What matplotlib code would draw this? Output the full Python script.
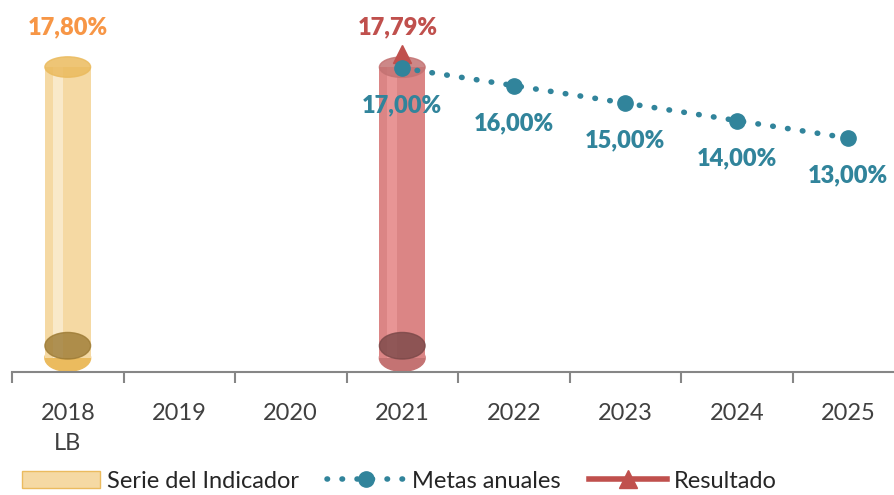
import matplotlib.pyplot as plt
from matplotlib.patches import Ellipse
from matplotlib.lines import Line2D
from matplotlib.patches import Patch

plt.rcParams['font.family'] = ['Lato', 'DejaVu Sans']

years = ["2018\nLB", "2019", "2020", "2021", "2022", "2023", "2024", "2025"]
serie_idx = [0, 3]
serie_vals = [17.80, 17.79]
serie_labels = ["17,80%", "17,79%"]
metas_idx = [3, 4, 5, 6, 7]
metas_vals = [17.0, 16.0, 15.0, 14.0, 13.0]
metas_labels = ["17,00%", "16,00%", "15,00%", "14,00%", "13,00%"]
res_idx = [3]
res_vals = [17.79]

# colours per bar: body, stripe, top, bottom-dark, label
bar_cols = [
    ("#F5D9A3", "#F9E9C9", "#EBBB5E", "#9C7A34", "#F79646"),
    ("#DB8585", "#E89595", "#C47373", "#7A4848", "#C0504D"),
]
teal = "#31849B"
red = "#C0504D"

fig = plt.figure(figsize=(8.94, 4.95), dpi=100)
W, H = 894, 495
axis_y = 372
left = 12
step = 111.5
ax = fig.add_axes([left / W, (H - axis_y) / H, 8 * step / W, axis_y / H])
ax.set_xlim(-0.5, 7.5)
ax.set_ylim(-0.37, 20.89)

# bars on their own scale
axb = ax.twinx()
axb.set_ylim(-0.856, 21.9)
axb.set_zorder(0)
ax.set_zorder(1)
ax.patch.set_visible(False)

bw = 0.41
eh = 1.25
for i, v, c in zip(serie_idx, serie_vals, bar_cols):
    body, stripe, top, dark, _ = c
    axb.add_patch(Ellipse((i, 0), bw, eh * 1.3, color=top, zorder=1))
    axb.bar(i, v, width=bw, color=body, zorder=2)
    axb.bar(i - 0.09, v, width=0.09, color=stripe, zorder=3)
    axb.add_patch(Ellipse((i, 0.75), bw, eh * 1.3, color=dark, alpha=0.8, zorder=4))
    axb.add_patch(Ellipse((i, v), bw, eh, color=top, alpha=0.85, zorder=4))
axb.set_yticks([])
for s in axb.spines.values():
    s.set_visible(False)

ax.plot(metas_idx, metas_vals, color=teal, lw=4, linestyle=(0, (0.1, 2.6)),
        dash_capstyle='round', marker='o', markersize=11, zorder=5)
ax.plot(res_idx, res_vals, color=red, lw=4, marker='^', markersize=13,
        linestyle='none', zorder=4)

for i, v, lab in zip(metas_idx, metas_vals, metas_labels):
    ax.annotate(lab, (i, v), xytext=(0, -27), textcoords='offset points',
                ha='center', va='center', color=teal, fontsize=17,
                fontweight='heavy')
for i, v, lab, c in zip(serie_idx, serie_vals, serie_labels, bar_cols):
    ax.text(i - (0.04 if i == 3 else 0), 19.35, lab, ha='center', va='center',
            color=c[4], fontsize=17, fontweight='heavy')

ax.set_yticks([])
for s in ["left", "right", "top"]:
    ax.spines[s].set_visible(False)
ax.spines["bottom"].set_color("#868686")
ax.spines["bottom"].set_linewidth(1.5)
ax.set_xticks(range(len(years)))
ax.set_xticklabels(years, fontsize=17, color="#404040", linespacing=1.55)
ax.tick_params(axis='x', length=0, pad=22)
ax.set_xticks([x - 0.5 for x in range(len(years) + 1)], minor=True)
ax.tick_params(axis='x', which='minor', length=8, width=1.5, color="#868686")

handles = [
    Patch(facecolor="#F5D9A3", edgecolor="#EBBB5E"),
    Line2D([], [], color=teal, lw=4, linestyle=(0, (0.1, 2.6)),
           dash_capstyle='round', marker='o', markersize=11),
    Line2D([], [], color=red, lw=4, marker='^', markersize=13),
]
fig.legend(handles, ["Serie del Indicador", "Metas anuales", "Resultado"],
           loc='center', bbox_to_anchor=(0.447, 14 / H), ncol=3, frameon=False,
           fontsize=17, handlelength=3.3, columnspacing=1.2, handletextpad=0.3,
           labelcolor="#262626")

fig.savefig("out.png", dpi=100)
